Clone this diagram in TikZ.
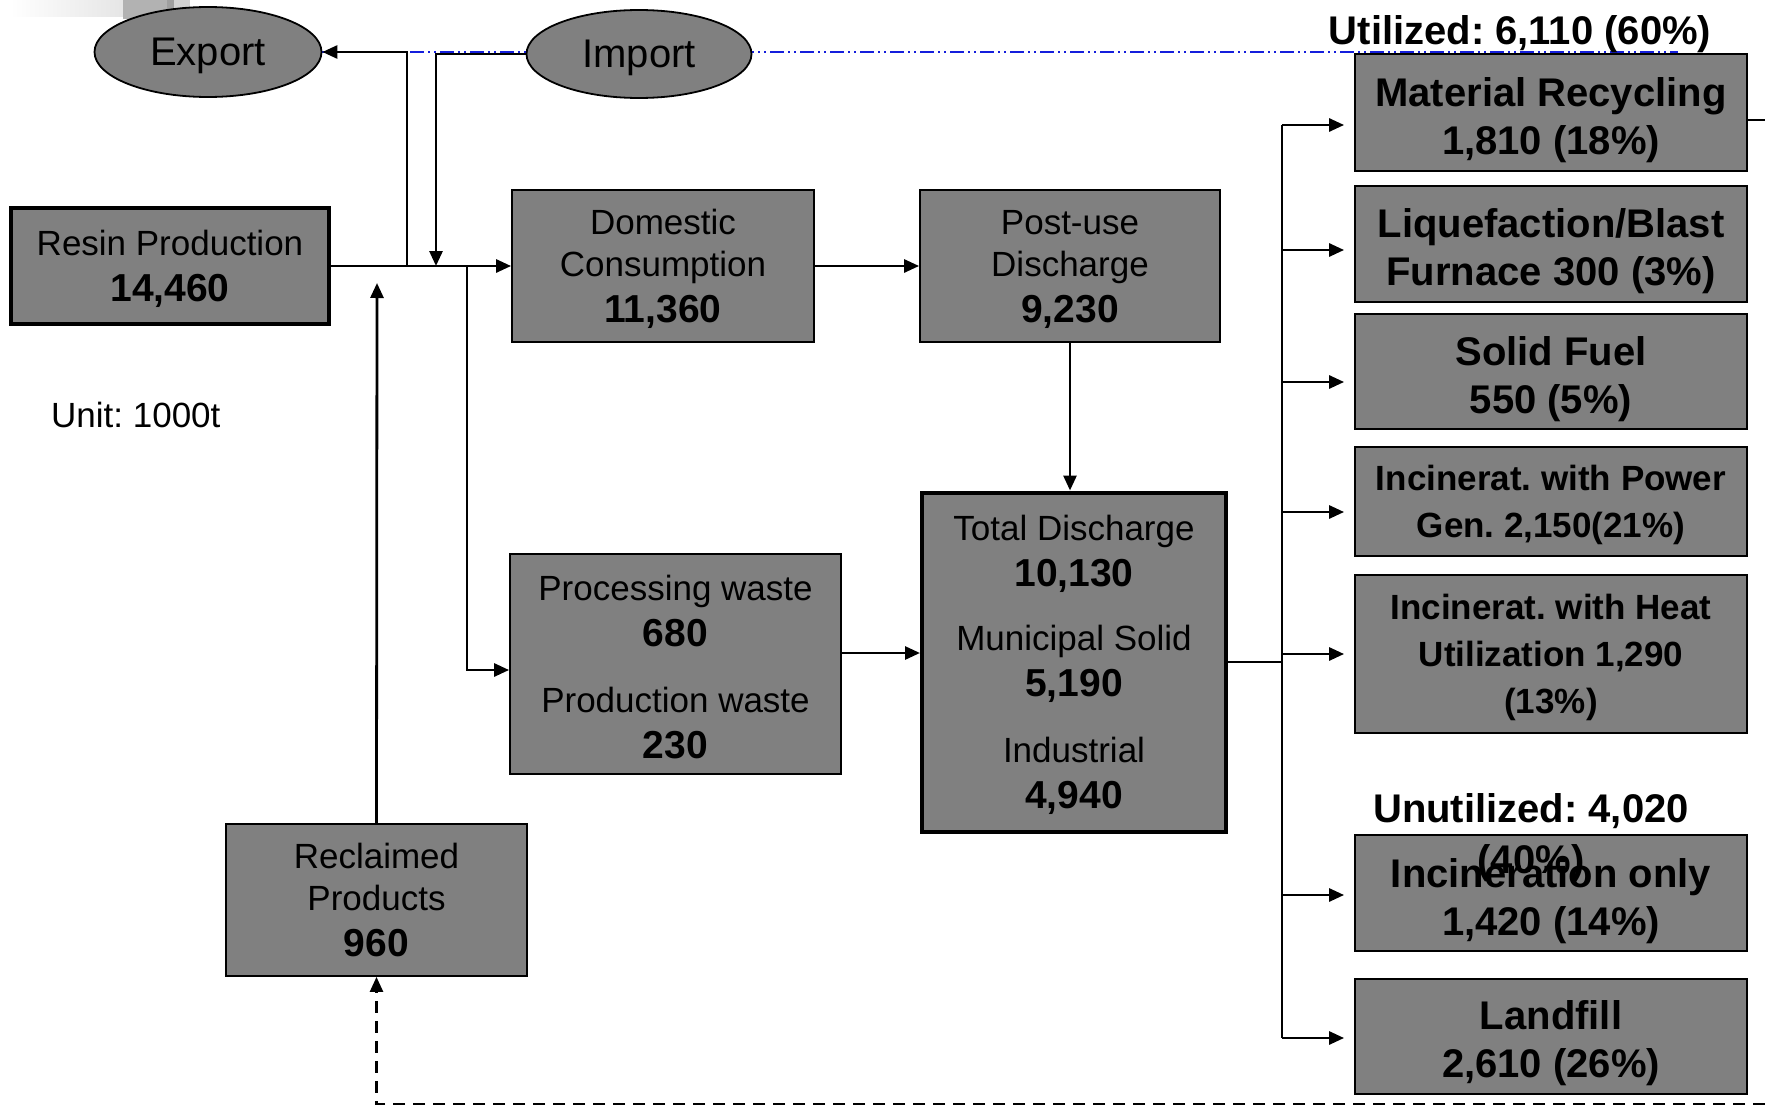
\documentclass[tikz,border=0pt]{standalone}
\usepackage{fontspec}
\setmainfont{Liberation Sans}
\usetikzlibrary{arrows.meta,shapes.geometric}
\definecolor{boxgray}{HTML}{808080}
\tikzset{
  box/.style={draw=black, line width=1.8pt, fill=boxgray, inner sep=0pt, align=center,
    font=\fontsize{35}{42}\selectfont, text depth=-4pt},
  thickbox/.style={box, line width=4pt},
  rbox/.style={box, minimum width=392pt, font=\fontsize{40}{48}\selectfont\bfseries, text depth=-6pt},
  rboxs/.style={box, minimum width=392pt, font=\fontsize{35}{47}\selectfont\bfseries, text depth=0pt},
  oval/.style={ellipse, draw=black, line width=1.8pt, fill=boxgray, inner sep=0pt,
    font=\fontsize{40}{48}\selectfont},
  conn/.style={line width=2.8pt},
  arr/.style={conn, -{Triangle[length=15pt,width=13pt]}},
  busline/.style={line width=2pt},
  blueline/.style={draw={rgb,255:red,20;green,30;blue,220}, line width=2pt,
    dash pattern=on 14pt off 4pt on 2pt off 4pt on 2pt off 4pt},
  lbl/.style={inner sep=0pt, font=\fontsize{40}{51}\selectfont\bfseries, align=center}
}
\newcommand\bnum[1]{{\fontsize{39}{46}\selectfont\bfseries #1}}
\newcommand\tstrut[1]{\rule{0pt}{#1}}
\frenchspacing
\begin{document}
\begin{tikzpicture}[x=1pt,y=-1pt]
\useasboundingbox (0,0) rectangle (1765,1108);
% slide artefact top-left
\shade[left color=white, right color=gray!20] (10,0) rectangle (123,17);
\fill[gray!60] (123,0) rectangle (167,19);
\fill[gray!75] (167,0) rectangle (174,19);
\fill[gray!35] (174,0) rectangle (190,15);
% blue dash-dot line (behind ellipses)
\coordinate (blS) at (320,52);
\coordinate (blE) at (1678,52);
\draw[blueline] (blS) -- (blE);

% ellipses
\node[oval, minimum width=227pt, minimum height=90pt, text depth=0pt] (exp) at (208,52) {Export};
\node[oval, minimum width=225pt, minimum height=88pt, text depth=-3pt] (imp) at (639,54) {Import};

% main boxes
\node[thickbox, minimum width=318pt, minimum height=116pt] (res) at (170,266)
  {Resin Production\\[4pt]\bnum{14,460}};
\node[box, minimum width=302pt, minimum height=152pt] (dom) at (663,266)
  {Domestic\\Consumption\\[4pt]\bnum{11,360}};
\node[box, minimum width=300pt, minimum height=152pt] (post) at (1070,266)
  {Post-use\\Discharge\\[4pt]\bnum{9,230}};
\node[thickbox, minimum width=304pt, minimum height=339pt] (tot) at (1074,662)
  {Total Discharge\\[4pt]\bnum{10,130}\\[22pt]Municipal Solid\\[4pt]\bnum{5,190}\\[24pt]Industrial\\[4pt]\bnum{4,940}};
\node[box, minimum width=331pt, minimum height=220pt] (proc) at (675.5,664)
  {\tstrut{30pt}Processing waste\\[4pt]\bnum{680}\\[24pt]Production waste\\[4pt]\bnum{230}};
\node[box, minimum width=301pt, minimum height=152pt] (rec) at (376.5,900)
  {Reclaimed\\Products\\[4pt]\bnum{960}};

% right boxes
\node[rbox, minimum height=117pt] (mr) at (1551,112.5) {\tstrut{36pt}Material Recycling\\1,810 (18\%)};
\node[rbox, minimum height=116pt] (lq) at (1551,244) {\tstrut{35pt}Liquefaction/Blast\\Furnace 300 (3\%)};
\node[rbox, minimum height=115pt] (sf) at (1551,371.5) {\tstrut{36pt}Solid Fuel\\550 (5\%)};
\node[rboxs, minimum height=109pt] (pw) at (1551,501.5) {Incinerat. with Power\\Gen. 2,150(21\%)};
\node[rboxs, minimum height=158pt] (ht) at (1551,654) {Incinerat. with Heat\\Utilization 1,290\\(13\%)};
\node[rbox, minimum height=116pt] (io) at (1551,893) {\tstrut{36pt}Incineration only\\1,420 (14\%)};
\node[rbox, minimum height=115pt] (lf) at (1551,1036.5) {\tstrut{33pt}Landfill\\2,610 (26\%)};

% labels
\node[lbl] (util) at (1520,34.5) {Utilized: 6,110 (60\%)};
\node[lbl] (unutil) at (1531,838) {Unutilized: 4,020\\(40\%)};
\node[inner sep=0pt, anchor=west, font=\fontsize{35}{42}\selectfont] (unit) at (51,415) {Unit: 1000t};

% junction coordinates on the main line
\coordinate (jexp) at (407,266);
\coordinate (jimp) at (436,266);
\coordinate (jproc) at (467,266);
\coordinate (jrec) at (377,283);

% connectors
\draw[conn] (res.east) -- (jexp);
\draw[arr] (jexp) -- (dom.west);
\draw[arr] (jexp) |- (exp.east);
\draw[arr] (imp.west) -| (jimp);
\draw[arr] (jproc) |- ([yshift=-6pt]proc.west);
\draw[arr] (rec.north) -- (jrec);
\draw[arr] (dom.east) -- (post.west);
\draw[arr] (post.south) -- (post.south |- tot.north);
\draw[arr] ([yshift=11pt]proc.east) -- ([yshift=11pt]proc.east -| tot.west);

% bus to the right column
\coordinate (bus) at (1282,662);
\coordinate (bmr) at (1282,125);
\coordinate (blq) at (1282,250);
\coordinate (bsf) at (1282,382);
\coordinate (bpw) at (1282,512);
\coordinate (bht) at (1282,654);
\coordinate (bio) at (1282,895);
\coordinate (blf) at (1282,1038);
\draw[busline] (tot.east) -- (bus);
\draw[busline] (bmr) -- (blf);
\foreach \c/\n in {bmr/mr, blq/lq, bsf/sf, bpw/pw, bht/ht, bio/io, blf/lf}
  \draw[arr, shorten >=10pt] (\c) -- (\c -| \n.west);

% short line off Material Recycling
\coordinate (mrR) at (1765,120);
\draw[busline] (mrR -| mr.east) -- (mrR);

% dashed return to Reclaimed Products
\coordinate (dR) at (1765,1104);
\draw[conn, line width=2.5pt, dash pattern=on 12pt off 8pt, -{Triangle[length=15pt,width=13pt]}] (dR) -| (rec.south);
\end{tikzpicture}
\end{document}
